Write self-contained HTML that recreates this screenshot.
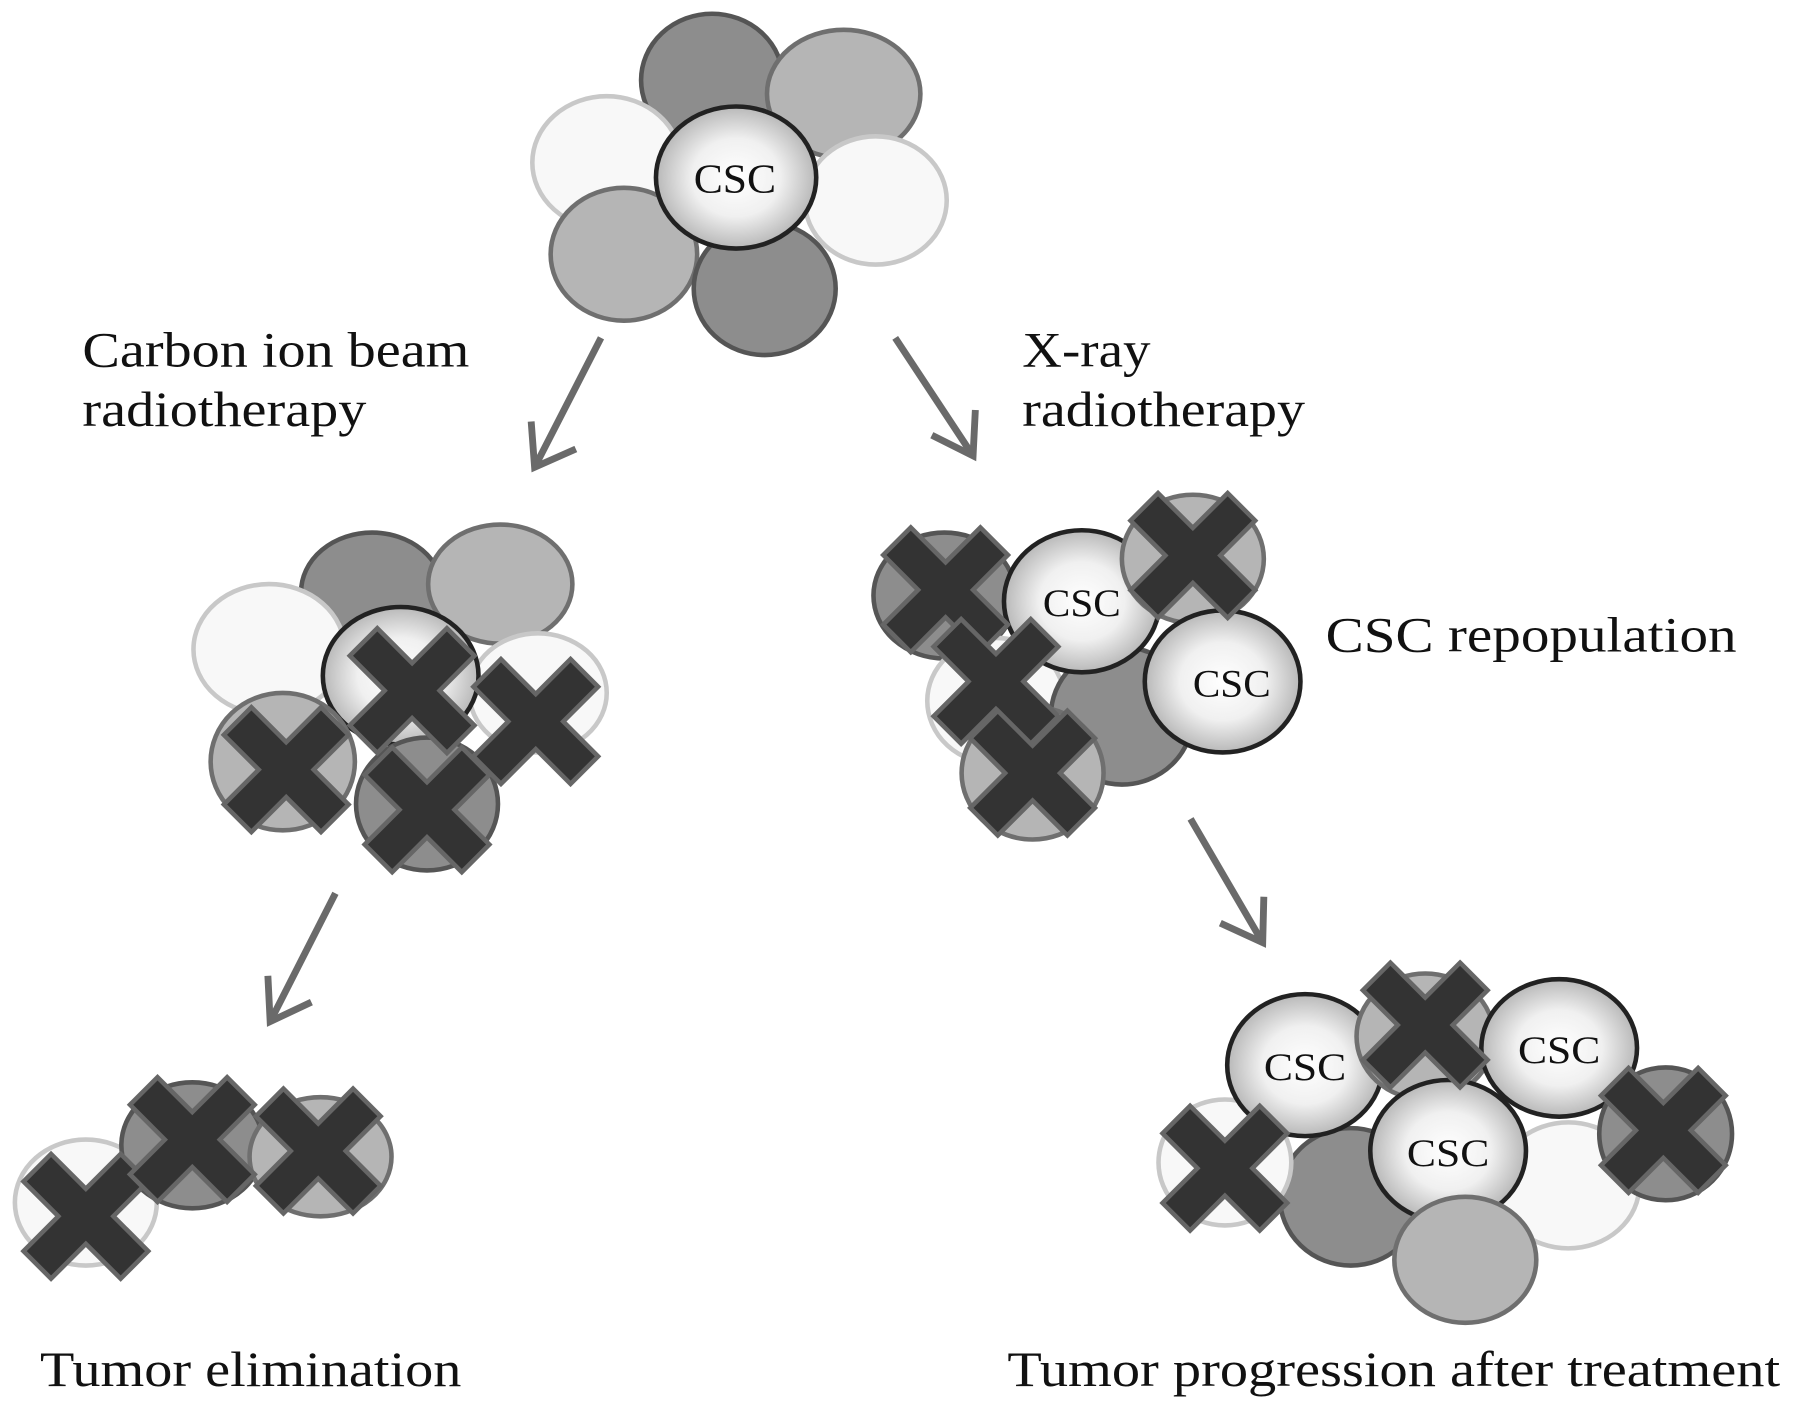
<!DOCTYPE html>
<html><head><meta charset="utf-8"><style>html,body{margin:0;padding:0;background:#fff}svg{display:block}</style></head>
<body>
<svg width="1795" height="1411" viewBox="0 0 1568 1232" preserveAspectRatio="none" xmlns="http://www.w3.org/2000/svg">
<defs>
<radialGradient id="g" cx="50%" cy="50%" r="50%"><stop offset="0" stop-color="#fff"/><stop offset="0.55" stop-color="#f0f0f0"/><stop offset="1" stop-color="#b8b8b8"/></radialGradient>
<polygon id="x" points="-17,-60 17,-60 17,-17 60,-17 60,17 17,17 17,60 -17,60 -17,17 -60,17 -60,-17 -17,-17" transform="rotate(45)" fill="#333" stroke="#666" stroke-width="4"/>
</defs>
<style>
.d{fill:#8d8d8d;stroke:#555;stroke-width:4}
.l{fill:#b5b5b5;stroke:#6f6f6f;stroke-width:4}
.w{fill:#f8f8f8;stroke:#c8c8c8;stroke-width:4}
.c{fill:url(#g);stroke:#222;stroke-width:4}
.t{font-family:"Liberation Serif",serif;fill:#111}
.a{stroke:#6a6a6a;stroke-width:6;fill:none}
</style>
<!-- top cluster -->
<ellipse class="d" cx="622" cy="70" rx="62" ry="58"/>
<ellipse class="l" cx="737" cy="82" rx="67" ry="56"/>
<ellipse class="w" cx="530" cy="142" rx="65" ry="58"/>
<ellipse class="w" cx="765" cy="175" rx="62" ry="56"/>
<ellipse class="l" cx="545" cy="222" rx="64" ry="58"/>
<ellipse class="d" cx="668" cy="252" rx="62" ry="58"/>
<ellipse class="c" cx="643" cy="155" rx="70" ry="62"/>
<text class="t" x="606" y="168" font-size="36" textLength="72" lengthAdjust="spacingAndGlyphs">CSC</text>
<!-- arrows -->
<g class="a">
<line x1="525" y1="295" x2="467" y2="408"/><polyline points="464,368 467,408 503,392"/>
<line x1="782" y1="295" x2="850" y2="398"/><polyline points="814,380 850,398 852,358"/>
<line x1="293" y1="780" x2="236" y2="892"/><polyline points="234,852 236,892 272,875"/>
<line x1="1040" y1="715" x2="1103" y2="823"/><polyline points="1066,806 1103,823 1104,783"/>
</g>
<!-- labels -->
<text class="t" x="72" y="320" font-size="43" textLength="338" lengthAdjust="spacingAndGlyphs">Carbon ion beam</text>
<text class="t" x="72" y="372" font-size="43" textLength="248" lengthAdjust="spacingAndGlyphs">radiotherapy</text>
<text class="t" x="893" y="320" font-size="43" textLength="112" lengthAdjust="spacingAndGlyphs">X-ray</text>
<text class="t" x="893" y="372" font-size="43" textLength="247" lengthAdjust="spacingAndGlyphs">radiotherapy</text>
<text class="t" x="1158" y="569" font-size="43" textLength="359" lengthAdjust="spacingAndGlyphs">CSC repopulation</text>
<text class="t" x="35" y="1210" font-size="43" textLength="368" lengthAdjust="spacingAndGlyphs">Tumor elimination</text>
<text class="t" x="880" y="1210" font-size="43" textLength="675" lengthAdjust="spacingAndGlyphs">Tumor progression after treatment</text>
<!-- middle left -->
<ellipse class="d" cx="325" cy="517" rx="62" ry="52"/>
<ellipse class="l" cx="437" cy="510" rx="63" ry="52"/>
<ellipse class="w" cx="235" cy="567" rx="66" ry="57"/>
<ellipse class="w" cx="470" cy="605" rx="60" ry="52"/>
<ellipse class="c" cx="350" cy="590" rx="68" ry="60"/>
<ellipse class="l" cx="247" cy="665" rx="63" ry="60"/>
<ellipse class="d" cx="373" cy="702" rx="62" ry="58"/>
<use href="#x" x="360" y="603"/>
<use href="#x" x="468" y="630"/>
<use href="#x" x="250" y="672"/>
<use href="#x" x="373" y="707"/>
<!-- middle right -->
<ellipse class="d" cx="825" cy="520" rx="62" ry="55"/>
<ellipse class="w" cx="870" cy="612" rx="60" ry="55"/>
<ellipse class="d" cx="980" cy="625" rx="62" ry="60"/>
<ellipse class="c" cx="945" cy="525" rx="68" ry="62"/>
<ellipse class="l" cx="1042" cy="488" rx="62" ry="56"/>
<ellipse class="c" cx="1068" cy="595" rx="68" ry="62"/>
<text class="t" x="911" y="538" font-size="34" textLength="68" lengthAdjust="spacingAndGlyphs">CSC</text>
<text class="t" x="1042" y="608" font-size="34" textLength="68" lengthAdjust="spacingAndGlyphs">CSC</text>
<ellipse class="l" cx="902" cy="675" rx="62" ry="58"/>
<use href="#x" x="826" y="515"/>
<use href="#x" x="1042" y="485"/>
<use href="#x" x="870" y="595"/>
<use href="#x" x="902" y="675"/>
<!-- bottom left -->
<ellipse class="w" cx="75" cy="1050" rx="62" ry="55"/>
<ellipse class="d" cx="168" cy="1000" rx="62" ry="55"/>
<ellipse class="l" cx="280" cy="1010" rx="62" ry="52"/>
<use href="#x" x="75" y="1062"/>
<use href="#x" x="168" y="995"/>
<use href="#x" x="278" y="1005"/>
<!-- bottom right -->
<ellipse class="d" cx="1180" cy="1045" rx="62" ry="60"/>
<ellipse class="w" cx="1070" cy="1015" rx="58" ry="55"/>
<ellipse class="w" cx="1370" cy="1035" rx="62" ry="55"/>
<ellipse class="c" cx="1140" cy="930" rx="68" ry="62"/>
<ellipse class="l" cx="1245" cy="905" rx="60" ry="55"/>
<ellipse class="c" cx="1362" cy="915" rx="68" ry="60"/>
<ellipse class="c" cx="1265" cy="1005" rx="68" ry="62"/>
<ellipse class="l" cx="1280" cy="1100" rx="62" ry="55"/>
<ellipse class="d" cx="1455" cy="990" rx="58" ry="58"/>
<text class="t" x="1104" y="943" font-size="34" textLength="72" lengthAdjust="spacingAndGlyphs">CSC</text>
<text class="t" x="1326" y="928" font-size="34" textLength="72" lengthAdjust="spacingAndGlyphs">CSC</text>
<text class="t" x="1229" y="1018" font-size="34" textLength="72" lengthAdjust="spacingAndGlyphs">CSC</text>
<use href="#x" x="1070" y="1020"/>
<use href="#x" x="1245" y="895"/>
<use href="#x" x="1453" y="987"/>
</svg>
</body></html>
